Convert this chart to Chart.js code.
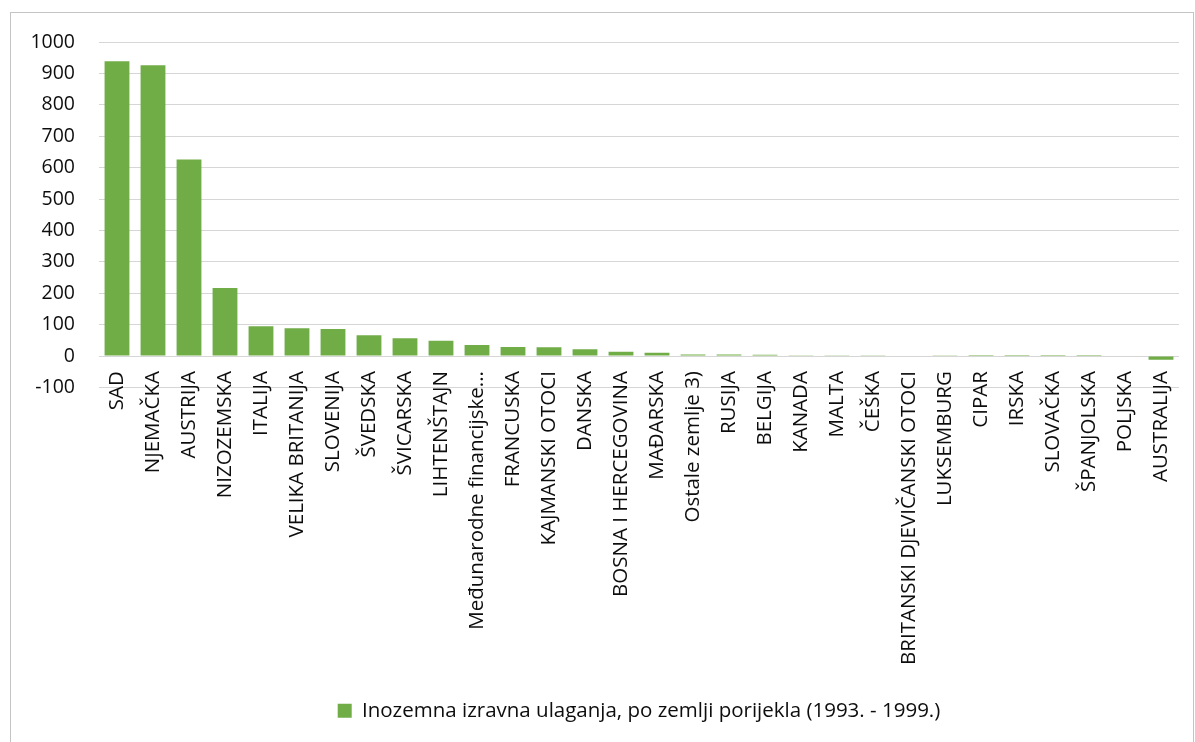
<!DOCTYPE html>
<html>
<head>
<meta charset="utf-8">
<script src="https://cdn.jsdelivr.net/npm/chart.js@4"></script>
<style>
  body { margin: 0; background: #fff; }
  #frame { position: absolute; left: 10px; top: 12px; width: 1182px; height: 740px; border: 1px solid #c4c4c4; }
  #wrap { position: absolute; left: 0; top: 0; width: 1195px; height: 742px; }
</style>
</head>
<body>
<div id="frame"></div>
<div id="wrap"><canvas id="myChart" width="1195" height="742"></canvas></div>
<script>
// zemlje porijekla
const countries = [
  "SAD", "NJEMAČKA", "AUSTRIJA", "NIZOZEMSKA", "ITALIJA", "VELIKA BRITANIJA",
  "SLOVENIJA", "ŠVEDSKA", "ŠVICARSKA", "LIHTENŠTAJN", "Međunarodne financijske...",
  "FRANCUSKA", "KAJMANSKI OTOCI", "DANSKA", "BOSNA I HERCEGOVINA", "MAĐARSKA",
  "Ostale zemlje 3)", "RUSIJA", "BELGIJA", "KANADA", "MALTA", "ČEŠKA",
  "BRITANSKI DJEVIČANSKI OTOCI", "LUKSEMBURG", "CIPAR", "IRSKA", "SLOVAČKA",
  "ŠPANJOLSKA", "POLJSKA", "AUSTRALIJA"
];
const investments = [
  939, 926, 626, 217, 95, 89,
  86, 66, 57, 49, 35,
  29, 28, 22, 14, 11,
  5, 5, 4.5, 3, 2.5, 2.5,
  2, 0.8, 0.4, 0.3, 0.2,
  0.1, 0, -12
];
const seriesName = "Inozemna izravna ulaganja, po zemlji porijekla (1993. - 1999.)";
const yMin = -100;
const yMax = 1000;
const yStep = 100;

const textColor = "#0d0d0d";

const ctx = document.getElementById("myChart");
new Chart(ctx, {
  type: "bar",
  data: {
    labels: countries,
    datasets: [
      {
        label: seriesName,
        data: investments,
        backgroundColor: "#70ad47",
        borderWidth: 0,
        barPercentage: 0.69,
        categoryPercentage: 1,
      },
    ],
  },
  options: {
    responsive: false,
    animation: false,
    layout: { padding: { left: 10, right: 16, top: 42, bottom: 11 } },
    scales: {
      // keeps room under the plot for the rotated names
      x: {
        grid: { display: false },
        border: { display: false },
        ticks: { display: false },
        afterFit: function (s) { s.height = 303; },
      },
      // the names themselves hang from the 0 line, like in Excel
      x2: {
        type: "category",
        position: { y: 0 },
        offset: true,
        grid: { display: false },
        border: { display: false },
        ticks: {
          autoSkip: false,
          minRotation: 90,
          maxRotation: 90,
          padding: 7,
          color: textColor,
          font: { family: "Open Sans", size: 20.5 },
        },
      },
      y: {
        min: yMin,
        max: yMax,
        grid: { color: "#d6d6d6", lineWidth: 1, drawTicks: false },
        border: { display: false },
        ticks: {
          stepSize: yStep,
          padding: 24,
          color: textColor,
          font: { family: "Open Sans", size: 19.5 },
          callback: function (value) { return String(value); },
        },
        afterFit: function (s) { s.width = 89; },
      },
    },
    plugins: {
      legend: {
        position: "bottom",
        fullSize: false,
        labels: {
          boxWidth: 14,
          boxHeight: 14,
          padding: 10,
          color: textColor,
          font: { family: "Open Sans", size: 20.5 },
        },
      },
      tooltip: { enabled: false },
    },
  },
});
</script>
</body>
</html>
